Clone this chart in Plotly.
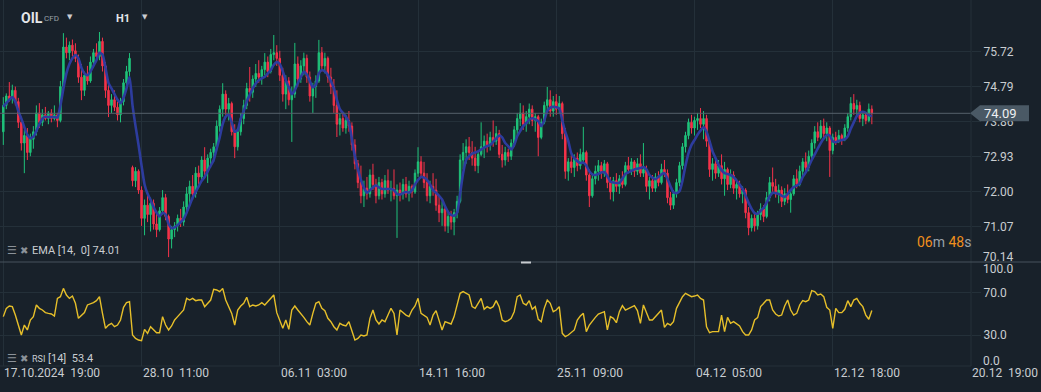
import plotly.graph_objects as go

# ---------------- data ----------------
bar_index = list(range(290))

opens = [73.60,74.30,74.55,74.48,74.70,74.40,73.85,73.30,73.50,73.05,
73.40,73.60,74.10,73.85,74.05,73.95,74.10,73.95,74.05,73.90,
74.80,75.85,75.70,75.90,75.75,75.55,75.05,74.70,75.10,74.95,
75.45,75.70,75.60,76.00,75.35,74.70,74.30,74.45,74.25,74.05,
74.40,74.90,75.20,72.65,72.30,72.55,72.05,71.30,71.65,71.40,
71.70,71.15,71.00,71.50,71.85,71.35,70.75,71.00,71.10,71.30,
71.20,71.60,71.95,72.15,71.95,72.50,72.40,72.85,72.55,72.90,
73.05,73.20,73.75,74.20,74.60,74.20,74.35,73.60,73.20,73.60,
73.95,74.30,74.75,74.65,75.00,75.15,75.05,75.25,75.45,75.20,
75.65,75.70,75.55,75.10,74.60,74.95,74.45,74.60,75.40,75.00,
75.35,75.55,75.05,74.55,74.80,74.95,75.70,75.35,75.55,75.05,
74.80,74.30,73.80,73.95,73.70,73.90,73.75,73.25,72.75,72.25,
71.90,72.10,71.95,72.45,72.20,71.90,72.25,71.95,72.30,72.05,
72.10,71.90,72.05,71.95,72.20,71.95,72.15,72.00,72.50,72.80,
72.50,72.25,71.90,72.15,72.05,71.65,71.45,71.55,71.10,71.35,
71.20,71.45,71.75,72.85,73.05,73.20,73.05,72.90,72.70,73.00,
73.20,73.35,73.25,73.45,73.35,73.55,73.00,72.85,73.05,72.95,
73.30,73.65,73.95,74.10,73.80,74.00,74.20,73.90,74.00,73.45,
73.85,74.30,74.45,74.15,74.40,74.20,74.35,73.55,72.55,72.80,
72.65,72.90,72.70,72.85,73.05,72.45,71.90,72.35,72.55,72.70,
72.50,72.75,72.25,72.00,72.30,72.15,72.35,72.20,72.70,72.60,
72.80,72.55,72.75,72.50,72.60,72.15,72.30,72.10,72.40,72.25,
72.60,72.50,71.85,71.65,71.95,72.25,72.70,73.20,73.50,73.85,
73.70,73.90,73.95,73.80,73.95,73.35,72.60,72.75,72.50,72.70,
72.35,72.60,72.20,72.45,72.10,72.20,71.95,72.05,71.45,71.05,
71.30,71.10,71.40,71.55,71.35,71.85,72.25,72.15,71.95,72.05,
71.75,71.95,71.80,71.95,72.35,72.20,72.55,72.80,72.65,72.95,
73.30,73.60,73.45,73.75,73.55,73.70,73.10,73.45,73.35,73.50,
73.40,73.70,74.00,74.35,74.20,74.30,73.95,74.05,73.90,74.20]

highs = [74.52,74.62,74.92,74.85,74.80,74.50,74.00,73.65,73.70,73.55,
73.75,74.30,74.36,74.20,74.26,74.15,74.20,74.30,74.10,74.95,
76.22,76.10,76.00,76.05,75.95,75.65,75.40,75.20,75.35,75.60,
75.80,75.95,76.25,76.10,75.45,74.95,74.60,74.70,74.40,74.50,
75.00,75.35,75.69,72.70,72.66,72.60,72.15,71.80,71.95,71.85,
71.80,71.50,71.60,72.05,71.95,71.40,71.10,71.20,71.40,71.55,
71.75,72.13,72.30,72.45,72.66,72.70,72.95,73.19,73.00,73.15,
73.30,73.90,74.30,74.89,74.70,74.50,74.40,73.80,73.70,74.10,
74.45,74.90,75.32,75.10,75.40,75.50,75.35,75.69,75.60,75.80,
76.17,75.90,75.75,75.30,75.10,75.05,74.80,75.96,75.60,75.50,
75.70,75.65,75.20,74.90,75.10,76.04,75.85,75.70,75.60,75.30,
75.00,74.70,74.10,74.10,74.05,74.15,73.85,73.40,72.85,72.70,
72.30,72.40,72.60,72.75,72.35,72.40,72.35,72.45,72.60,72.30,
72.60,72.20,72.25,72.35,72.40,72.30,72.20,72.60,73.19,72.95,
72.80,72.50,72.30,72.50,72.35,71.90,71.75,71.60,71.50,71.50,
71.55,71.90,73.00,73.30,73.40,73.46,73.35,73.20,73.10,73.85,
73.50,73.55,73.60,73.90,73.75,73.65,73.25,73.20,73.15,73.40,
73.75,74.10,74.36,74.30,74.15,74.35,74.30,74.10,74.05,73.95,
74.40,74.79,74.70,74.55,74.60,74.55,74.40,73.70,72.90,73.00,
73.00,73.05,73.15,73.73,73.10,72.60,72.50,72.70,72.85,72.80,
72.85,72.80,72.40,72.40,72.50,72.45,72.55,72.80,72.93,72.90,
72.85,72.90,73.00,73.30,72.70,72.40,72.45,72.50,72.55,72.75,
72.85,72.60,72.00,72.05,72.35,72.80,73.30,73.60,73.95,74.05,
74.00,74.10,74.23,74.15,74.05,73.40,72.90,72.85,72.85,73.00,
72.80,72.65,72.60,72.55,72.35,72.30,72.15,72.10,71.60,71.40,
71.45,71.50,71.70,71.65,72.00,72.40,72.65,72.35,72.20,72.15,
72.10,72.20,72.05,72.45,72.60,72.70,72.90,73.05,73.10,73.40,
73.75,73.85,73.91,73.95,73.85,73.75,73.55,73.60,73.65,73.55,
73.80,74.10,74.52,74.60,74.45,74.40,74.15,74.10,74.35,74.30]

lows = [73.25,74.20,74.40,74.35,74.30,73.70,73.10,72.50,72.85,72.95,
73.15,73.50,73.70,73.75,73.90,73.80,73.85,73.90,73.72,73.85,
74.70,75.55,75.50,75.60,75.45,74.90,74.44,74.55,74.85,74.90,
75.30,75.45,75.50,75.20,74.50,73.99,74.10,74.15,73.90,73.85,
74.30,74.70,75.00,72.15,72.13,71.95,71.10,70.85,71.20,70.95,
71.00,70.80,70.95,71.40,71.25,70.27,70.50,70.80,70.95,71.07,
71.10,71.45,71.70,71.80,71.85,72.20,72.30,72.40,72.24,72.65,
72.80,73.10,73.60,74.00,74.05,73.90,73.50,72.90,73.10,73.50,
73.80,74.20,74.40,74.50,74.79,74.90,74.85,75.10,75.05,75.15,
75.50,75.35,74.95,74.40,74.20,74.30,73.33,74.50,74.80,74.90,
75.10,74.90,74.40,74.10,74.50,74.90,75.20,75.15,74.90,74.60,
74.10,73.46,73.50,73.60,73.55,73.60,73.10,72.60,72.10,71.70,
71.60,71.80,71.85,72.05,71.70,71.80,71.80,71.85,71.95,71.75,
71.80,70.78,71.75,71.80,71.85,71.75,71.85,71.95,72.40,72.40,
72.10,71.75,71.70,71.90,71.50,71.20,71.10,70.95,70.91,71.00,
70.85,71.30,71.70,72.60,72.75,72.85,72.70,72.55,72.50,72.95,
72.90,73.05,73.10,73.20,73.25,72.90,72.65,72.70,72.80,72.85,
73.20,73.50,73.75,73.65,73.60,73.80,73.75,73.60,72.95,73.40,
73.80,74.10,74.00,74.00,74.05,74.10,73.40,72.35,72.30,72.50,
72.40,72.55,72.60,72.75,72.30,71.60,71.85,72.20,72.30,72.35,
72.40,72.10,71.80,71.75,72.00,71.95,72.10,72.15,72.50,72.45,
72.40,72.45,72.40,72.40,72.00,71.80,72.00,72.00,72.15,72.20,
72.40,71.70,71.52,71.55,71.85,72.15,72.60,73.05,73.40,73.55,
73.50,73.65,73.70,73.40,73.20,72.40,72.30,72.35,72.40,72.20,
71.90,72.05,72.10,71.95,71.80,71.85,71.70,71.30,70.85,70.95,
70.95,71.00,71.25,71.20,71.30,71.75,72.00,71.85,71.70,71.60,
71.65,71.70,71.45,71.90,72.10,72.15,72.40,72.55,72.55,72.85,
73.15,73.35,73.40,73.45,73.35,72.40,73.00,73.25,73.30,73.25,
73.35,73.60,73.90,74.05,74.00,73.85,73.75,73.80,73.85,73.80]

closes = [74.30,74.55,74.48,74.70,74.40,73.85,73.30,73.50,73.05,73.40,
73.60,74.10,73.85,74.05,73.95,74.10,73.95,74.05,73.90,74.80,
75.85,75.70,75.90,75.75,75.55,75.05,74.70,75.10,74.95,75.45,
75.70,75.60,76.00,75.35,74.70,74.30,74.45,74.25,74.05,74.40,
74.90,75.20,75.55,72.30,72.55,72.05,71.30,71.65,71.40,71.70,
71.15,71.00,71.50,71.85,71.35,70.75,71.00,71.10,71.30,71.20,
71.60,71.95,72.15,71.95,72.50,72.40,72.85,72.55,72.90,73.05,
73.20,73.75,74.20,74.60,74.20,74.35,73.60,73.20,73.60,73.95,
74.30,74.75,74.65,75.00,75.15,75.05,75.25,75.45,75.20,75.65,
75.70,75.55,75.10,74.60,74.95,74.45,74.60,75.40,75.00,75.35,
75.55,75.05,74.55,74.80,74.95,75.70,75.35,75.55,75.05,74.80,
74.30,73.80,73.95,73.70,73.90,73.75,73.25,72.75,72.25,71.90,
72.10,71.95,72.45,72.20,71.90,72.25,71.95,72.30,72.05,72.10,
71.90,72.05,71.95,72.20,71.95,72.15,72.00,72.50,72.80,72.50,
72.25,71.90,72.15,72.05,71.65,71.45,71.55,71.10,71.35,71.20,
71.45,71.75,72.85,73.05,73.20,73.05,72.90,72.70,73.00,73.20,
73.35,73.25,73.45,73.35,73.55,73.00,72.85,73.05,72.95,73.30,
73.65,73.95,74.10,73.80,74.00,74.20,73.90,74.00,73.45,73.85,
74.30,74.45,74.15,74.40,74.20,74.35,73.55,72.55,72.80,72.65,
72.90,72.70,73.00,73.05,72.45,71.90,72.35,72.55,72.70,72.50,
72.75,72.25,72.00,72.30,72.15,72.35,72.20,72.70,72.60,72.80,
72.55,72.75,72.50,72.60,72.15,72.30,72.10,72.40,72.25,72.60,
72.50,71.85,71.65,71.95,72.25,72.70,73.20,73.50,73.85,73.70,
73.90,73.95,73.80,73.95,73.35,72.60,72.75,72.50,72.70,72.35,
72.60,72.20,72.45,72.10,72.20,71.95,72.05,71.45,71.05,71.30,
71.10,71.40,71.55,71.35,71.85,72.25,72.15,71.95,72.05,71.75,
71.95,71.80,71.95,72.35,72.20,72.55,72.80,72.65,72.95,73.30,
73.60,73.45,73.75,73.55,73.70,73.10,73.45,73.35,73.50,73.40,
73.70,74.00,74.35,74.20,74.30,73.95,74.05,73.90,74.20,74.09]

ema14 = [74.26,74.36,74.45,74.52,74.40,74.15,73.95,73.72,73.52,73.43,
73.47,73.62,73.80,73.95,74.00,73.99,73.99,73.99,73.98,74.30,
74.75,75.15,75.40,75.55,75.64,75.55,75.30,75.15,75.10,75.20,
75.35,75.50,75.70,75.65,75.30,74.90,74.75,74.60,74.45,74.36,
74.50,74.75,75.05,74.30,73.75,73.25,72.70,72.20,71.95,71.79,
71.60,71.45,71.35,71.45,71.40,71.15,71.04,71.06,71.12,71.20,
71.28,71.45,71.65,71.85,72.00,72.15,72.30,72.40,72.55,72.70,
72.85,73.15,73.45,73.80,74.00,74.05,73.85,73.60,73.65,73.95,
74.15,74.40,74.58,74.75,74.88,74.97,75.02,75.06,75.15,75.24,
75.38,75.45,75.40,75.20,74.97,74.78,74.60,74.70,74.89,75.05,
75.19,75.12,74.95,74.78,74.85,75.15,75.24,75.20,75.11,74.95,
74.75,74.45,74.20,74.10,74.00,73.85,73.40,72.95,72.60,72.32,
72.12,71.98,72.05,72.12,72.18,72.12,72.08,72.08,72.08,72.08,
72.05,71.95,71.93,71.97,72.00,71.98,72.05,72.20,72.32,72.40,
72.38,72.32,72.20,72.05,71.98,71.90,71.80,71.62,71.47,71.39,
71.37,71.45,71.95,72.50,72.85,72.95,73.02,73.05,73.08,73.13,
73.18,73.22,73.25,73.33,73.42,73.50,73.45,73.30,73.22,73.13,
73.25,73.48,73.62,73.75,73.83,73.92,73.96,73.93,73.88,73.75,
73.90,74.15,74.24,74.26,74.25,74.22,73.90,73.60,73.35,73.03,
72.90,72.82,72.77,72.78,72.70,72.55,72.47,72.45,72.48,72.52,
72.53,72.42,72.28,72.25,72.24,72.24,72.35,72.48,72.52,72.56,
72.60,72.62,72.64,72.66,72.60,72.45,72.38,72.34,72.40,72.47,
72.50,72.35,72.15,71.99,71.97,72.02,72.30,72.70,73.03,73.25,
73.38,73.52,73.63,73.72,73.60,73.35,73.08,72.90,72.72,72.58,
72.50,72.48,72.45,72.40,72.30,72.20,72.08,71.90,71.71,71.55,
71.44,71.42,71.50,71.58,71.72,71.88,71.98,71.97,71.95,71.90,
71.87,71.95,72.05,72.13,72.17,72.22,72.40,72.52,72.68,72.85,
73.00,73.15,73.30,73.42,73.51,73.50,73.35,73.32,73.36,73.38,
73.40,73.48,73.68,73.85,74.02,74.10,74.13,74.10,74.04,74.01]

rsi14 = [47.5,55.4,57.6,57.0,49.0,39.5,30.0,39.5,34.8,44.3,
47.5,58.6,55.4,53.8,51.3,50.6,50.0,48.1,64.9,66.5,
74.4,68.1,64.9,67.1,60.2,45.9,49.0,51.3,58.6,59.5,
60.8,62.7,66.5,50.6,36.4,39.5,41.1,37.9,39.5,44.3,
56.4,60.8,61.7,30.0,26.8,25.2,24.6,35.4,31.6,37.9,
35.4,32.2,32.2,47.5,39.5,34.8,38.6,44.3,47.5,50.6,
53.8,64.9,63.3,64.9,62.7,63.3,63.3,57.0,60.2,63.3,
73.5,72.9,71.3,74.4,63.3,57.0,50.6,39.5,53.8,57.6,
60.2,65.9,57.0,58.6,57.6,58.6,60.8,58.6,61.7,64.9,
68.1,51.3,44.3,36.4,44.3,35.4,53.8,57.6,53.8,50.6,
46.8,42.7,39.5,50.6,60.2,61.7,55.4,53.2,45.9,42.7,
37.9,34.8,41.1,39.5,38.6,42.7,34.8,25.2,26.8,30.0,
29.1,30.0,45.9,53.8,44.3,40.5,44.3,42.7,49.0,55.4,
50.6,30.0,53.8,51.3,49.0,47.5,53.8,57.6,64.9,50.6,
49.0,46.8,39.5,49.0,53.2,44.3,34.8,42.7,41.7,40.5,
47.5,58.6,69.7,71.3,69.7,68.1,57.0,55.4,60.2,64.9,
54.5,57.0,55.4,57.0,62.7,57.0,44.3,42.7,43.7,45.9,
52.2,66.5,68.1,60.2,58.6,62.7,54.5,57.0,44.9,42.7,
55.4,63.3,60.2,52.2,53.8,57.0,31.6,28.4,30.0,32.5,
34.8,44.3,48.1,50.6,33.2,39.5,43.7,46.8,50.0,51.3,
52.2,34.8,47.5,45.9,41.7,52.2,57.9,53.8,55.4,57.0,
57.9,53.2,41.1,58.6,51.3,44.3,44.3,47.5,50.6,53.8,
37.3,41.1,39.5,42.7,55.4,61.7,66.5,69.7,68.1,66.5,
67.1,68.1,64.9,63.3,37.9,32.2,33.2,33.2,33.2,49.0,
33.2,46.8,41.1,42.7,40.2,38.6,33.2,30.0,30.0,34.8,
44.3,46.5,57.0,60.2,63.3,63.3,53.8,50.0,48.1,49.0,
57.6,63.3,53.8,49.0,50.6,58.6,62.7,61.7,63.3,72.2,
71.3,68.1,69.0,66.5,56.4,53.8,36.4,55.4,51.3,51.3,
54.5,62.7,57.0,63.3,64.9,60.2,57.0,49.0,45.0,53.4]

time_labels = ["17.10.2024\u00a0\u00a019:00", "28.10\u00a0\u00a011:00", "06.11\u00a0\u00a003:00",
               "14.11\u00a0\u00a016:00", "25.11\u00a0\u00a009:00", "04.12\u00a0\u00a005:00",
               "12.12\u00a0\u00a018:00", "20.12\u00a0\u00a019:00"]
time_label_bars = [0, 46, 92, 138, 184, 230, 276, 322]
price_ticks = [71.07, 72.00, 72.93, 73.86, 74.79, 75.72]
price_bottom_tick = 70.14
rsi_ticks = [30.0, 70.0]
last_price = 74.09
ema_last = 74.01
rsi_last = 53.4

# ---------------- styling ----------------
W, H = 1041, 392
PLOT_W, PLOT_H = 971, 366
SEP = 104 / PLOT_H          # price / RSI split (paper y)
BG = "#18212a"
GRID = "#243039"
TXT = "#c9cdd1"
FONT = "Roboto"

def px_x(x):
    return x / PLOT_W

def px_y(y):
    return (PLOT_H - y) / PLOT_H

fig = go.Figure()

fig.add_trace(go.Candlestick(
    x=bar_index, open=opens, high=highs, low=lows, close=closes,
    increasing=dict(line=dict(color="#1fc27a", width=1), fillcolor="#1fc27a"),
    decreasing=dict(line=dict(color="#f5334a", width=1), fillcolor="#f5334a"),
    xaxis="x", yaxis="y", showlegend=False, hoverinfo="skip"))

fig.add_trace(go.Scatter(
    x=bar_index, y=ema14, mode="lines",
    line=dict(color="#2d3c9e", width=2.6, shape="spline", smoothing=0.6),
    xaxis="x", yaxis="y", showlegend=False, hoverinfo="skip"))

fig.add_trace(go.Scatter(
    x=bar_index, y=rsi14, mode="lines",
    line=dict(color="#e6bf2a", width=1.4),
    xaxis="x2", yaxis="y2", showlegend=False, hoverinfo="skip"))

xcommon = dict(range=[-1.1, 322], tickmode="array", tickvals=time_label_bars,
               showticklabels=False, showgrid=True, gridcolor=GRID, gridwidth=1,
               zeroline=False, showline=False, ticks="", fixedrange=True)

fig.update_layout(
    width=W, height=H,
    margin=dict(l=0, r=W - PLOT_W, t=0, b=H - PLOT_H, pad=0),
    paper_bgcolor=BG, plot_bgcolor=BG,
    font=dict(family=FONT, color=TXT, size=12),
    showlegend=False,
    xaxis=dict(domain=[0, 1], anchor="y", rangeslider=dict(visible=False), **xcommon),
    xaxis2=dict(domain=[0, 1], anchor="y2", matches="x", **xcommon),
    yaxis=dict(domain=[SEP, 1], anchor="x", side="right", range=[70.14, 77.10],
               tickmode="array", tickvals=price_ticks,
               ticktext=["%.2f" % v for v in price_ticks],
               showgrid=True, gridcolor=GRID, zeroline=False, showline=False,
               ticks="outside", ticklen=9, tickcolor=GRID,
               tickfont=dict(family=FONT, size=12, color=TXT), fixedrange=True),
    yaxis2=dict(domain=[0, SEP], anchor="x2", side="right", range=[0.5, 99.5],
                tickmode="array", tickvals=rsi_ticks,
                ticktext=["%.1f" % v for v in rsi_ticks],
                showgrid=True, gridcolor=GRID, zeroline=False, showline=False,
                ticks="outside", ticklen=9, tickcolor=GRID,
                tickfont=dict(family=FONT, size=12, color=TXT), fixedrange=True),
)

shapes = []
shapes.append(dict(type="line", xref="paper", yref="paper", x0=1, x1=1, y0=0, y1=1,
                   line=dict(color=GRID, width=1)))
shapes.append(dict(type="line", xref="paper", yref="paper", x0=0, x1=1, y0=0, y1=0,
                   line=dict(color=GRID, width=1)))
shapes.append(dict(type="line", xref="paper", yref="paper", x0=0, x1=W / PLOT_W, y0=SEP, y1=SEP,
                   line=dict(color="#47525c", width=1)))
shapes.append(dict(type="line", xref="paper", yref="paper", x0=px_x(521), x1=px_x(531),
                   y0=px_y(262.5), y1=px_y(262.5), line=dict(color="#c8ccd0", width=2)))
shapes.append(dict(type="line", xref="paper", yref="y", x0=0, x1=px_x(970), y0=last_price, y1=last_price,
                   line=dict(color="#56616b", width=1)))
half = 8 * (77.10 - 70.14) / 262
shapes.append(dict(type="path", xref="paper", yref="y",
                   path="M %f,%f L %f,%f L %f,%f L %f,%f L %f,%f Z" % (
                       px_x(970), last_price,
                       px_x(980), last_price + half,
                       px_x(1029), last_price + half,
                       px_x(1029), last_price - half,
                       px_x(980), last_price - half),
                   fillcolor="#4a5965", line=dict(width=0)))
fig.update_layout(shapes=shapes)

ann = []
for lbl, b in zip(time_labels, time_label_bars):
    ann.append(dict(x=b, xref="x2", y=px_y(372.5), yref="paper", text=lbl, showarrow=False,
                    xanchor="left", yanchor="middle", xshift=-1,
                    font=dict(family=FONT, size=12, color=TXT)))
ann.append(dict(x=px_x(981), xref="paper", y=px_y(257), yref="paper", text="%.2f" % price_bottom_tick,
                showarrow=False, xanchor="left", yanchor="middle",
                font=dict(family=FONT, size=12, color=TXT)))
ann.append(dict(x=px_x(981), xref="paper", y=px_y(268.5), yref="paper", text="100.0",
                showarrow=False, xanchor="left", yanchor="middle",
                font=dict(family=FONT, size=12, color=TXT)))
ann.append(dict(x=px_x(981), xref="paper", y=px_y(361), yref="paper", text="0.0",
                showarrow=False, xanchor="left", yanchor="middle",
                font=dict(family=FONT, size=12, color=TXT)))
ann.append(dict(x=px_x(982), xref="paper", y=last_price, yref="y", text="%.2f" % last_price,
                showarrow=False, xanchor="left", yanchor="middle",
                font=dict(family=FONT, size=13, color="#eef0f2")))
ann.append(dict(x=px_x(973), xref="paper", y=px_y(242), yref="paper",
                text="<span style='color:#f0901c'>06</span>m <span style='color:#f0901c'>48</span>s",
                showarrow=False, xanchor="right", yanchor="middle",
                font=dict(family=FONT, size=14, color="#9aa1a8")))
ann.append(dict(x=px_x(19), xref="paper", y=px_y(18), yref="paper", text="<b>OIL</b>",
                showarrow=False, xanchor="left", yanchor="middle",
                font=dict(family=FONT, size=14, color="#e4e6e8")))
ann.append(dict(x=px_x(42), xref="paper", y=px_y(18.5), yref="paper", text="CFD",
                showarrow=False, xanchor="left", yanchor="middle",
                font=dict(family=FONT, size=8, color="#9aa1a8")))
ann.append(dict(x=px_x(65), xref="paper", y=px_y(17), yref="paper", text="\u25bc",
                showarrow=False, xanchor="left", yanchor="middle",
                font=dict(family="DejaVu Sans", size=7, color="#c9cdd1")))
ann.append(dict(x=px_x(114), xref="paper", y=px_y(18.5), yref="paper", text="<b>H1</b>",
                showarrow=False, xanchor="left", yanchor="middle",
                font=dict(family=FONT, size=11, color="#e4e6e8")))
ann.append(dict(x=px_x(140), xref="paper", y=px_y(17), yref="paper", text="\u25bc",
                showarrow=False, xanchor="left", yanchor="middle",
                font=dict(family="DejaVu Sans", size=7, color="#c9cdd1")))
for ytxt, label in [(250, "EMA [14,\u00a0 0] %.2f" % ema_last),
                    (358.5, "<span style='font-size:9px'>RSI</span> [14]\u00a0 %.1f" % rsi_last)]:
    ann.append(dict(x=px_x(5), xref="paper", y=px_y(ytxt), yref="paper", text="\u2630",
                    showarrow=False, xanchor="left", yanchor="middle",
                    font=dict(family="DejaVu Sans", size=11, color="#8b9299")))
    ann.append(dict(x=px_x(18), xref="paper", y=px_y(ytxt), yref="paper", text="\u2716",
                    showarrow=False, xanchor="left", yanchor="middle",
                    font=dict(family="DejaVu Sans", size=10, color="#8b9299")))
    ann.append(dict(x=px_x(30), xref="paper", y=px_y(ytxt), yref="paper", text=label,
                    showarrow=False, xanchor="left", yanchor="middle",
                    font=dict(family=FONT, size=11, color=TXT)))
fig.update_layout(annotations=ann)

fig.write_html("out.html", config={"displayModeBar": False, "staticPlot": True},
               post_script="document.body.style.margin='0';document.body.style.overflow='hidden';")
